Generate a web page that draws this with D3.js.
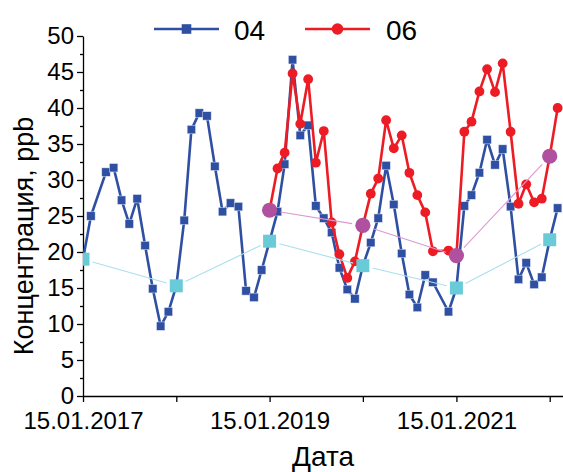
<!DOCTYPE html>
<html><head><meta charset="utf-8">
<script src="https://cdn.jsdelivr.net/npm/d3@7"></script>
<style>
body{margin:0;background:#fff;}
svg{display:block;font-family:"Liberation Sans",Arial,sans-serif;}
</style></head>
<body>
<svg id="chart" width="563" height="472"></svg>
<script>
// ---- DATA ----
const months04 = ["2017-01","2017-02","2017-04","2017-05","2017-06","2017-07","2017-08","2017-09","2017-10","2017-11","2017-12",
"2018-01","2018-02","2018-03","2018-04","2018-05","2018-06","2018-07","2018-08","2018-09","2018-10","2018-11","2018-12",
"2019-01","2019-02","2019-03","2019-04","2019-05","2019-06","2019-07","2019-08","2019-09","2019-10","2019-11","2019-12",
"2020-01","2020-02","2020-03","2020-04","2020-05","2020-06","2020-07","2020-08","2020-09","2020-10","2020-12",
"2021-01","2021-02","2021-03","2021-04","2021-05","2021-06","2021-07","2021-08","2021-09","2021-10","2021-11","2021-12",
"2022-01","2022-02"];
const values04 = [19.0,25.0,31.1,31.7,27.2,23.9,27.4,20.9,14.9,9.7,11.7,
15.3,24.4,37.0,39.3,38.9,31.9,25.6,26.8,26.3,14.6,13.7,17.5,
21.5,25.6,32.2,46.7,36.2,37.6,26.4,24.7,22.7,17.8,14.8,13.5,
18.1,21.3,24.7,32.0,26.6,19.8,14.1,12.3,16.8,15.8,11.7,
15.0,26.4,27.9,31.0,35.6,32.1,34.3,26.3,16.2,18.5,15.5,16.5,
21.7,26.1];

const months06 = ["2019-01","2019-02","2019-03","2019-04","2019-05","2019-06","2019-07","2019-08","2019-09","2019-10","2019-11","2019-12",
"2020-01","2020-02","2020-03","2020-04","2020-05","2020-06","2020-07","2020-08","2020-09","2020-10","2020-12",
"2021-01","2021-02","2021-03","2021-04","2021-05","2021-06","2021-07","2021-08","2021-09","2021-10","2021-11","2021-12",
"2022-01","2022-02"];
const values06 = [25.8,31.6,33.8,44.8,37.8,44.0,32.4,36.8,24.1,19.7,16.4,18.7,
23.7,28.1,30.2,38.3,34.4,36.2,31.0,27.9,25.5,20.1,20.2,
19.5,36.7,38.1,42.3,45.4,42.2,46.2,36.7,26.7,29.4,26.9,27.4,
33.3,40.0];

const janMonths04 = ["2017-01","2018-01","2019-01","2020-01","2021-01","2022-01"];
const janValues04 = [19.0,15.3,21.5,18.1,15.0,21.7];
const janMonths06 = ["2019-01","2020-01","2021-01","2022-01"];
const janValues06 = [25.8,23.7,19.5,33.3];

const yTicks = [0,5,10,15,20,25,30,35,40,45,50];
const xTickDates = ["15.01.2017","15.01.2018","15.01.2019","15.01.2020","15.01.2021","15.01.2022"];
const xTickLabels = ["15.01.2017","","15.01.2019","","15.01.2021",""];
const seriesNames = ["04","06"];
const xTitle = "Дата";
const yTitle = "Концентрация, ppb";

// ---- STYLE ----
const C_BLUE = "#2f4fa2", C_RED = "#ed1c24", C_CYAN = "#6acbd8", C_CYANLINE = "#a9e0ee",
      C_PURP = "#b0519f", C_PINKLINE = "#dd97d3";

const parseM = d3.timeParse("%Y-%m-%d");
const parseT = d3.timeParse("%d.%m.%Y");
const toDate = m => parseM(m + "-15");

const pL = 83, pR = 563, pT = 36, pB = 396;
const x = d3.scaleTime().domain([parseT("15.01.2017"), parseT("08.03.2022")]).range([pL, pR]);
const y = d3.scaleLinear().domain([0, 50]).range([pB, pT]);

const svg = d3.select("#chart");
svg.append("defs").append("clipPath").attr("id","clip")
  .append("rect").attr("x", pL).attr("y", 0).attr("width", pR - pL).attr("height", pB);

// axes
svg.append("g").attr("transform", `translate(${pL},0)`)
  .call(d3.axisLeft(y).tickValues(yTicks).tickSize(6).tickPadding(3).tickSizeOuter(0));
svg.append("g").attr("transform", `translate(${pL},0)`)
  .call(d3.axisLeft(y).tickValues(d3.range(2.5, 50, 5)).tickSize(3).tickFormat("").tickSizeOuter(0))
  .select(".domain").remove();
svg.append("g").attr("transform", `translate(0,${pB})`)
  .call(d3.axisBottom(x).tickValues(xTickDates.map(parseT)).tickSize(6).tickPadding(10).tickSizeOuter(0)
    .tickFormat((d, i) => xTickLabels[i]));
svg.selectAll(".tick text").attr("font-size", 24).attr("font-family", "Liberation Sans, Arial, sans-serif").attr("fill", "#000");
svg.selectAll(".domain, .tick line").attr("stroke", "#000").attr("stroke-width", 1.3);

// titles
svg.append("text").attr("x", (pL + pR) / 2).attr("y", 466).attr("text-anchor", "middle")
  .attr("font-size", 28).text(xTitle);
svg.append("text").attr("transform", "translate(33,236) rotate(-90)").attr("text-anchor", "middle")
  .attr("font-size", 27).text(yTitle);

const plot = svg.append("g").attr("clip-path", "url(#clip)");

const pts = (ms, vs) => ms.map((m, i) => ({ d: toDate(m), v: vs[i] }));
const line = d3.line().x(p => x(p.d)).y(p => y(p.v));

// series 04
const s04 = pts(months04, values04);
plot.append("path").datum(s04).attr("d", line).attr("fill", "none")
  .attr("stroke", C_BLUE).attr("stroke-width", 2.6).attr("stroke-linejoin", "round");
plot.selectAll(".sq04").data(s04).join("rect")
  .attr("x", p => x(p.d) - 4.2).attr("y", p => y(p.v) - 4.2).attr("width", 8.4).attr("height", 8.4)
  .attr("fill", C_BLUE).attr("stroke", "#dfe6f5").attr("stroke-width", 0.5);

// series 06
const s06 = pts(months06, values06);
plot.append("path").datum(s06).attr("d", line).attr("fill", "none")
  .attr("stroke", C_RED).attr("stroke-width", 2.6).attr("stroke-linejoin", "round");
plot.selectAll(".c06").data(s06).join("circle")
  .attr("cx", p => x(p.d)).attr("cy", p => y(p.v)).attr("r", 4.9).attr("fill", C_RED);

// gapped thin lines between annual markers
function gapLines(data, color, gap) {
  for (let i = 0; i < data.length - 1; i++) {
    const x1 = x(data[i].d), y1 = y(data[i].v), x2 = x(data[i + 1].d), y2 = y(data[i + 1].v);
    const L = Math.hypot(x2 - x1, y2 - y1), ux = (x2 - x1) / L, uy = (y2 - y1) / L;
    plot.append("line").attr("x1", x1 + ux * gap).attr("y1", y1 + uy * gap)
      .attr("x2", x2 - ux * gap).attr("y2", y2 - uy * gap)
      .attr("stroke", color).attr("stroke-width", 1.1);
  }
}
const j04 = pts(janMonths04, janValues04);
gapLines(j04, C_CYANLINE, 10);
plot.selectAll(".j04").data(j04).join("rect")
  .attr("x", p => x(p.d) - 6.5).attr("y", p => y(p.v) - 6.5).attr("width", 13).attr("height", 13)
  .attr("fill", C_CYAN);

const j06 = pts(janMonths06, janValues06);
gapLines(j06, C_PINKLINE, 11);
plot.selectAll(".j06").data(j06).join("circle")
  .attr("cx", p => x(p.d)).attr("cy", p => y(p.v)).attr("r", 7.6).attr("fill", C_PURP);

// legend
const lg = svg.append("g");
const ly = 29;
lg.append("line").attr("x1", 154).attr("x2", 219).attr("y1", ly).attr("y2", ly).attr("stroke", C_BLUE).attr("stroke-width", 2.6);
lg.append("rect").attr("x", 186.5 - 4.8).attr("y", ly - 4.8).attr("width", 9.6).attr("height", 9.6).attr("fill", C_BLUE);
lg.append("text").attr("x", 234).attr("y", 40).attr("font-size", 28).text(seriesNames[0]);
lg.append("line").attr("x1", 305).attr("x2", 370).attr("y1", ly).attr("y2", ly).attr("stroke", C_RED).attr("stroke-width", 2.6);
lg.append("circle").attr("cx", 337.5).attr("cy", ly).attr("r", 5.8).attr("fill", C_RED);
lg.append("text").attr("x", 386).attr("y", 40).attr("font-size", 28).text(seriesNames[1]);
</script>
</body></html>
